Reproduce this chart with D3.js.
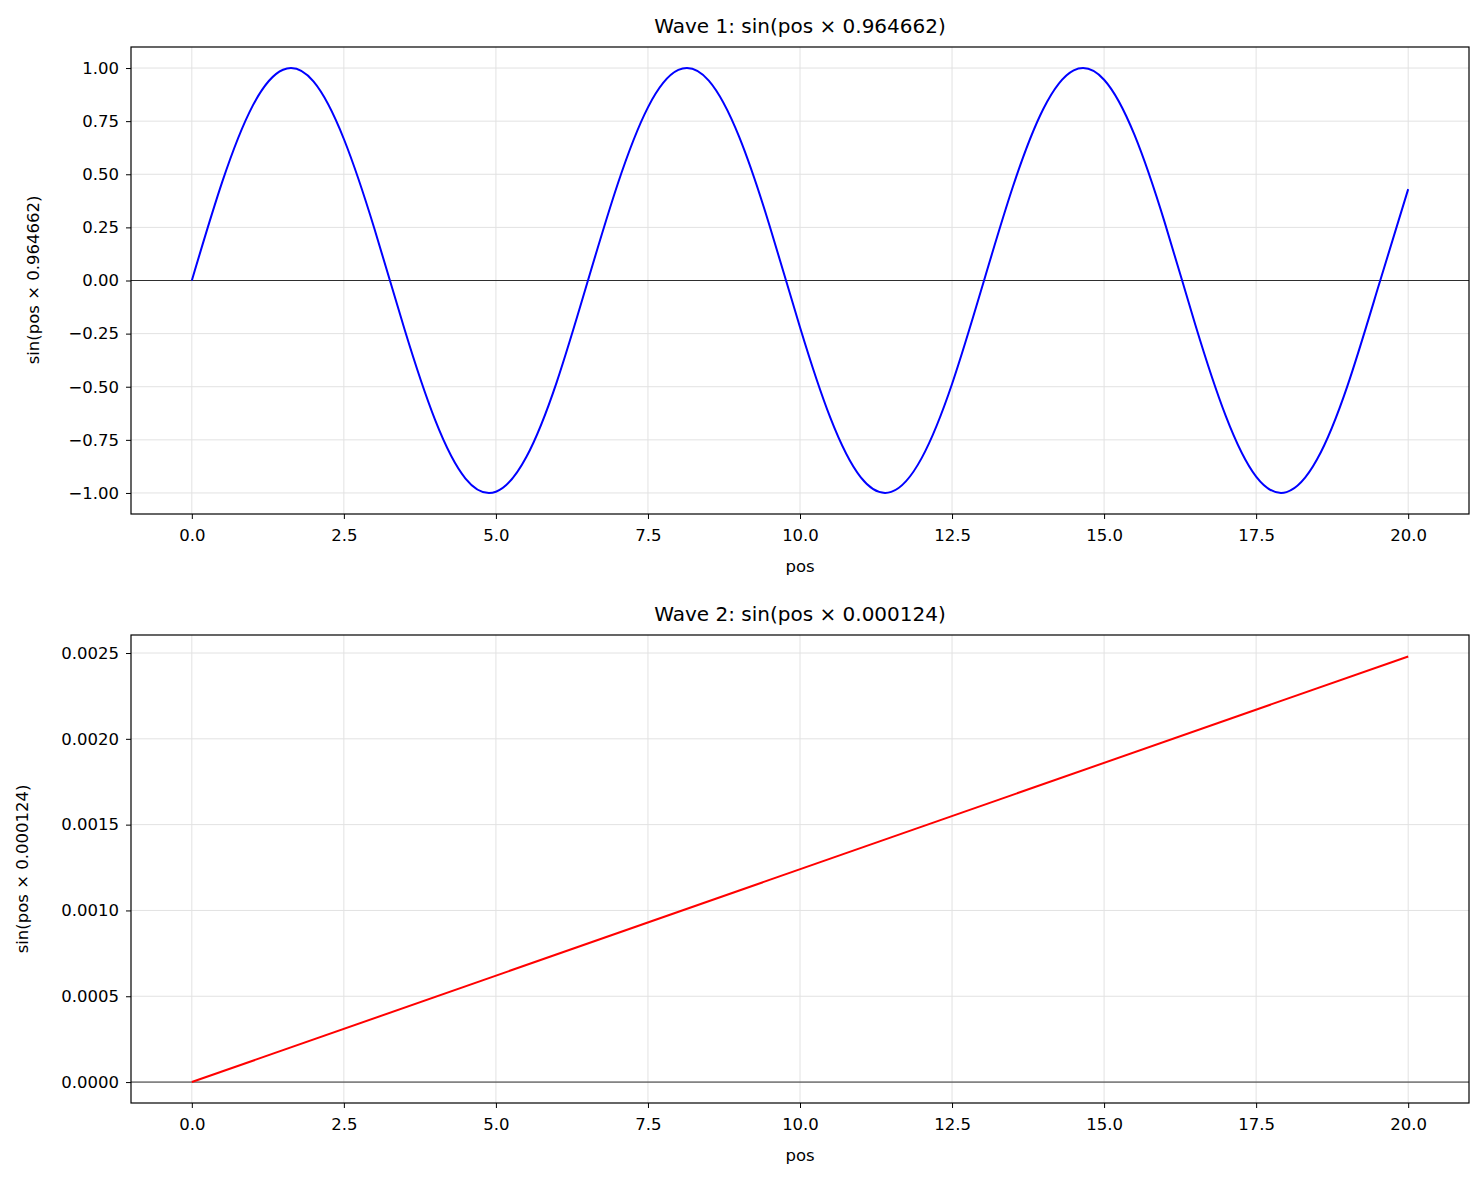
<!DOCTYPE html>
<html><head><meta charset="utf-8">
<script src="https://cdn.jsdelivr.net/npm/d3@7"></script>
<style>body{margin:0;background:#fff}text{font-family:"DejaVu Sans",sans-serif;fill:#000}</style>
</head><body><div id="chart"></div>
<script>
// values, pos step 0.5
var pos1 = d3.range(41).map(function(i){ return i * 0.5; });
var wave1 = [0,0.464,0.822,0.992,0.937,0.666,0.246,-0.232,-0.656,-0.932,-0.994,-0.831,-0.478,-0.013,0.452,0.815,0.991,0.941,0.676,0.258,-0.220,-0.647,-0.927,-0.995,-0.836,-0.487,-0.025,0.441,0.807,0.989,0.945,0.685,0.270,-0.208,-0.637,-0.923,-0.996,-0.843,-0.497,-0.038,0.430];
var pos2 = [0, 20];
var wave2 = [0, 0.00248];
var xTicks = [0,2.5,5,7.5,10,12.5,15,17.5,20];
var yTicks1 = [-1,-0.75,-0.5,-0.25,0,0.25,0.5,0.75,1];
var yTicks2 = [0,0.0005,0.001,0.0015,0.002,0.0025];

var svg = d3.select("#chart").append("svg").attr("width",1484).attr("height",1181);

function panel(top, bottom, yDomain, yTicks, fmt, xs, ys, color, title, curve){
	var x = d3.scaleLinear().domain([-1,21]).range([131,1469]);
	var y = d3.scaleLinear().domain(yDomain).range([bottom, top]);
	var g = svg.append("g");
	g.selectAll(".gx").data(xTicks).enter().append("line")
		.attr("x1",function(d){return x(d);}).attr("x2",function(d){return x(d);})
		.attr("y1",top).attr("y2",bottom).attr("stroke","#e2e2e2").attr("stroke-width",1);
	g.selectAll(".gy").data(yTicks).enter().append("line")
		.attr("y1",function(d){return y(d);}).attr("y2",function(d){return y(d);})
		.attr("x1",131).attr("x2",1469).attr("stroke","#e2e2e2").attr("stroke-width",1);
	g.append("line").attr("x1",131).attr("x2",1469).attr("y1",y(0)).attr("y2",y(0))
		.attr("stroke","#000").attr("stroke-width",0.8);
	var line = d3.line().x(function(d){return x(d[0]);}).y(function(d){return y(d[1]);}).curve(curve);
	g.append("path").datum(d3.zip(xs, ys)).attr("d",line).attr("fill","none")
		.attr("stroke",color).attr("stroke-width",2);
	g.append("g").attr("transform","translate(0,"+bottom+")")
		.call(d3.axisBottom(x).tickValues(xTicks).tickFormat(d3.format(".1f")).tickSizeOuter(0).tickSize(5).tickPadding(7))
		.call(function(a){a.attr("font-size",null).attr("font-family",null); a.select(".domain").remove(); a.selectAll("text").attr("font-size","16.5px").attr("dy","0.9em");});
	g.append("g").attr("transform","translate(131,0)")
		.call(d3.axisLeft(y).tickValues(yTicks).tickFormat(fmt).tickSizeOuter(0).tickSize(5).tickPadding(7))
		.call(function(a){a.attr("font-size",null).attr("font-family",null); a.select(".domain").remove(); a.selectAll("text").attr("font-size","16.5px");});
	g.append("rect").attr("x",131).attr("y",top).attr("width",1338).attr("height",bottom-top)
		.attr("fill","none").attr("stroke","#000").attr("stroke-width",1.2);
	g.append("text").attr("x",800).attr("y",top-14).attr("text-anchor","middle").attr("font-size","20px").text(title);
	g.append("text").attr("x",800).attr("y",bottom+58).attr("text-anchor","middle").attr("font-size","16.5px").text("pos");
	return g;
}

var f1 = function(d){ return d3.format(".2f")(d).replace("-","\u2212"); };
var g1 = panel(47, 514, [-1.099,1.099], yTicks1, f1, pos1, wave1, "#0000ff", "Wave 1: sin(pos \u00d7 0.964662)", d3.curveNatural);
g1.append("text").attr("transform","translate(39,280) rotate(-90)").attr("text-anchor","middle").attr("font-size","16.5px").text("sin(pos \u00d7 0.964662)");
var g2 = panel(635, 1103, [-0.000122,0.002605], yTicks2, d3.format(".4f"), pos2, wave2, "#ff0000", "Wave 2: sin(pos \u00d7 0.000124)", d3.curveLinear);
g2.append("text").attr("transform","translate(28,869) rotate(-90)").attr("text-anchor","middle").attr("font-size","16.5px").text("sin(pos \u00d7 0.000124)");
</script></body></html>
